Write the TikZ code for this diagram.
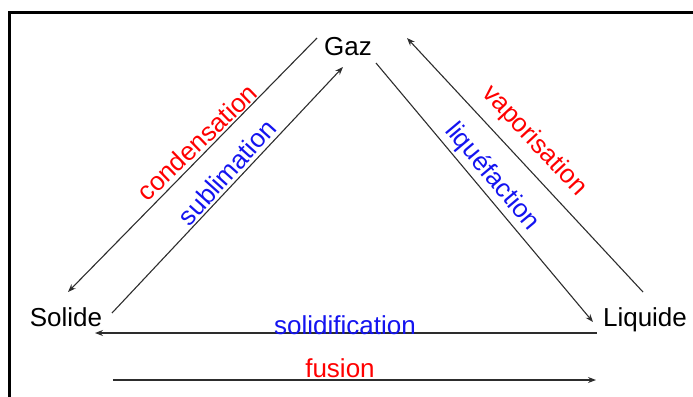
\documentclass[tikz,border=0pt]{standalone}
\usepackage{fontspec}
\setmainfont{Liberation Sans}
\usetikzlibrary{arrows.meta,positioning}
\definecolor{procred}{RGB}{255,0,0}
\definecolor{procblue}{RGB}{20,20,240}
\definecolor{arrowgray}{RGB}{45,45,45}

\begin{document}
\begin{tikzpicture}[x=.5pt,y=-.5pt,
  etat/.style={font=\fontsize{13}{15}\selectfont,inner sep=0pt,anchor=base},
  lab/.style={font=\fontsize{13}{15}\selectfont,inner sep=0pt},
  trans/.style={-{Stealth[length=4pt,width=3pt]},arrowgray,line width=.55pt}]
\useasboundingbox (0,0) rectangle (693,397);
\draw[line width=1.6pt] (9.5,397)--(9.5,12.5)--(693,12.5);
% states
\node[etat] (gaz) at (348,55) {Gaz};
\node[etat] (solide) at (66,326) {Solide};
\node[etat] (liquide) at (645,326) {Liquide};
% arrow ends
\coordinate (condA) at (317,38);   \coordinate (condB) at (68,292);
\coordinate (sublA) at (112,313);  \coordinate (sublB) at (343,67);
\coordinate (liqA) at (376,63);    \coordinate (liqB) at (593,322);
\coordinate (vapA) at (643,292);   \coordinate (vapB) at (407,38);
\coordinate (solA) at (597,333);   \coordinate (solB) at (95,333);
\coordinate (fusA) at (113,380);   \coordinate (fusB) at (596,380);
\draw[trans] (condA)--(condB);
\draw[trans] (sublA)--(sublB);
\draw[trans] (liqA)--(liqB);
\draw[trans] (vapA)--(vapB);
\draw[trans] (solA)--(solB);
\draw[trans] (fusA)--(fusB);
% transitions
\node[lab,procred,rotate=44] (cond) at (197,142) {condensation};
\node[lab,procblue,rotate=48] (subl) at (227,172) {sublimation};
\node[lab,procred,rotate=-47] (vap) at (534,141) {vaporisation};
\node[lab,procblue,rotate=-50] (liq) at (492,177) {liquéfaction};
\node[lab,procblue] (sol) at (345,325) {solidification};
\node[lab,procred] (fus) at (340,368) {fusion};
\end{tikzpicture}
\end{document}
